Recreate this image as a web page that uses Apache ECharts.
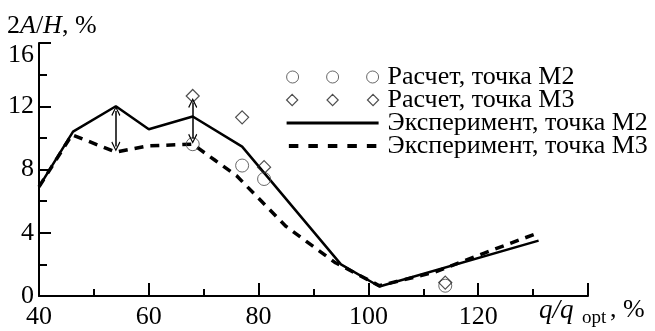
<!DOCTYPE html>
<html>
<head>
<meta charset="utf-8">
<script src="https://cdn.jsdelivr.net/npm/echarts@6/dist/echarts.min.js"></script>
<style>
html,body{margin:0;padding:0;background:#fff}
#chartmap{width:655px;height:331px}
</style>
</head>
<body>
<div id="chartmap"></div>
<script>
// данные (x = q/q_opt, %, y = 2A/H, %)
const calcM2 = [[68, 9.6], [77, 8.25], [81, 7.4], [114, 0.65]];
const calcM3 = [[68, 12.65], [77, 11.3], [81, 8.15], [114, 0.85]];
const expM2 = [[40, 6.9], [46.2, 10.4], [54, 12.0], [60, 10.55], [68, 11.35], [77, 9.45], [95, 2.0], [102, 0.6], [131, 3.5]];
const expM3 = [[40, 6.9], [46, 10.2], [54, 9.1], [60, 9.5], [68, 9.6], [72, 8.6], [76, 7.6], [85, 4.4], [94, 2.1], [102, 0.65], [112, 1.5], [121, 2.7], [131, 4.0]];
// двойные стрелки между кривыми
const arrowX = [54, 68];
const arrowTop = [11.7, 12.2];
const arrowBottom = [9.45, 9.95];

const seriesNames = ['Расчет, точка M2', 'Расчет, точка M3', 'Эксперимент, точка M2', 'Эксперимент, точка M3'];
const xTicks = {min: 40, max: 140, step: 20};
const yTicks = {min: 0, max: 16, step: 4};

const serif = "'Liberation Serif', 'Times New Roman', 'DejaVu Serif', serif";
// значки легенды (поле 92x12, пустые точки задают рамку)
const box = 'M0,0 L0.01,0 Z M0,12 L0.01,12 Z ';
const circles3 = 'path://M0,6 A6,6 0 1,1 12,6 A6,6 0 1,1 0,6 Z M40,6 A6,6 0 1,1 52,6 A6,6 0 1,1 40,6 Z M80,6 A6,6 0 1,1 92,6 A6,6 0 1,1 80,6 Z';
const diamonds3 = 'path://M6,0.5 L11.5,6 L6,11.5 L0.5,6 Z M46,0.5 L51.5,6 L46,11.5 L40.5,6 Z M86,0.5 L91.5,6 L86,11.5 L80.5,6 Z';
const solidIcon = 'path://' + box + 'M0,4.5 L92,4.5 L92,7.5 L0,7.5 Z';
const dashedIcon = 'path://' + box + [0, 19.5, 39, 58.5, 78].map(x => 'M' + x + ',4 L' + (x + 9.5) + ',4 L' + (x + 9.5) + ',8 L' + x + ',8 Z').join(' ');
const arrowHead = 'path://M5,0 L10,9 L9,10 L5,2.5 L1,10 L0,9 Z';

const arrowLines = arrowX.map((x, i) => [{coord: [x, arrowTop[i]]}, {coord: [x, arrowBottom[i]]}]);

const option = {
    backgroundColor: '#fff',
    animation: false,
    textStyle: {fontFamily: serif},
    grid: {left: 39, right: 67, top: 43, bottom: 35},
    legend: {
        orient: 'vertical',
        left: 281,
        top: 59,
        itemWidth: 92,
        itemHeight: 12,
        itemGap: -3,
        selectedMode: false,
        textStyle: {fontFamily: serif, fontSize: 26, color: '#000', padding: [0, 0, 0, 4]},
        data: [
            {name: seriesNames[0], icon: circles3, itemStyle: {color: 'transparent', borderColor: '#444', borderWidth: 1}},
            {name: seriesNames[1], icon: diamonds3, itemStyle: {color: 'transparent', borderColor: '#222', borderWidth: 1.2}},
            {name: seriesNames[2], icon: solidIcon, itemStyle: {color: '#000', borderWidth: 0}},
            {name: seriesNames[3], icon: dashedIcon, itemStyle: {color: '#000', borderWidth: 0}}
        ]
    },
    xAxis: {
        type: 'value',
        min: xTicks.min, max: xTicks.max, interval: xTicks.step,
        axisLine: {lineStyle: {color: '#000', width: 2}},
        axisTick: {inside: true, length: 13, lineStyle: {color: '#000', width: 2}},
        minorTick: {show: true, splitNumber: 2, length: 7, lineStyle: {color: '#000', width: 2}},
        splitLine: {show: false},
        axisLabel: {
            fontFamily: serif, fontSize: 26, color: '#000', margin: 8,
            formatter: v => (v === xTicks.max ? '' : String(v))
        }
    },
    yAxis: {
        type: 'value',
        min: yTicks.min, max: yTicks.max, interval: yTicks.step,
        axisLine: {lineStyle: {color: '#000', width: 2}},
        axisTick: {inside: true, length: 12, lineStyle: {color: '#000', width: 2}},
        minorTick: {show: true, splitNumber: 2, length: 8, lineStyle: {color: '#000', width: 2}},
        splitLine: {show: false},
        axisLabel: {
            fontFamily: serif, fontSize: 26, color: '#000', margin: 5,
            formatter: v => (v === yTicks.max ? '{t|' + v + '}' : String(v)),
            rich: {t: {fontFamily: serif, fontSize: 26, color: '#000', padding: [24, 0, 0, 0]}}
        }
    },
    graphic: [
        {
            type: 'text', left: 7, top: 13,
            style: {
                text: '{n|2}{i|A}{n|/}{i|H}{n|, %}',
                rich: {
                    n: {fontFamily: serif, fontSize: 26, fill: '#000'},
                    i: {fontFamily: serif, fontSize: 26, fontStyle: 'italic', fill: '#000'}
                }
            }
        },
        {type: 'text', left: 539, top: 297, style: {text: 'q/q', fontFamily: serif, fontSize: 27, fontStyle: 'italic', fill: '#000'}},
        {type: 'text', left: 582, top: 309, style: {text: 'opt', fontFamily: serif, fontSize: 19, fill: '#000'}},
        {type: 'text', left: 610, top: 297, style: {text: ', %', fontFamily: serif, fontSize: 26, fill: '#000'}}
    ],
    series: [
        {
            name: seriesNames[0], type: 'scatter', data: calcM2,
            symbol: 'circle', symbolSize: 13, z: 3,
            itemStyle: {color: 'transparent', borderColor: '#444', borderWidth: 1}
        },
        {
            name: seriesNames[1], type: 'scatter', data: calcM3,
            symbol: 'diamond', symbolSize: 13, z: 3,
            itemStyle: {color: 'transparent', borderColor: '#222', borderWidth: 1.2}
        },
        {
            name: seriesNames[2], type: 'line', data: expM2,
            symbol: 'none', z: 2,
            lineStyle: {color: '#000', width: 2.5},
            itemStyle: {color: '#000'},
            markLine: {
                silent: true,
                symbol: [arrowHead, arrowHead],
                symbolSize: [9, 10],
                label: {show: false},
                lineStyle: {color: '#000', width: 1.5, type: 'solid'},
                data: arrowLines
            }
        },
        {
            name: seriesNames[3], type: 'line', data: expM3,
            symbol: 'none', z: 2,
            lineStyle: {color: '#000', width: 3.5, type: [9, 7]},
            itemStyle: {color: '#000'}
        }
    ]
};

const myChart = echarts.init(document.getElementById('chartmap'));
myChart.setOption(option);
</script>
</body>
</html>
